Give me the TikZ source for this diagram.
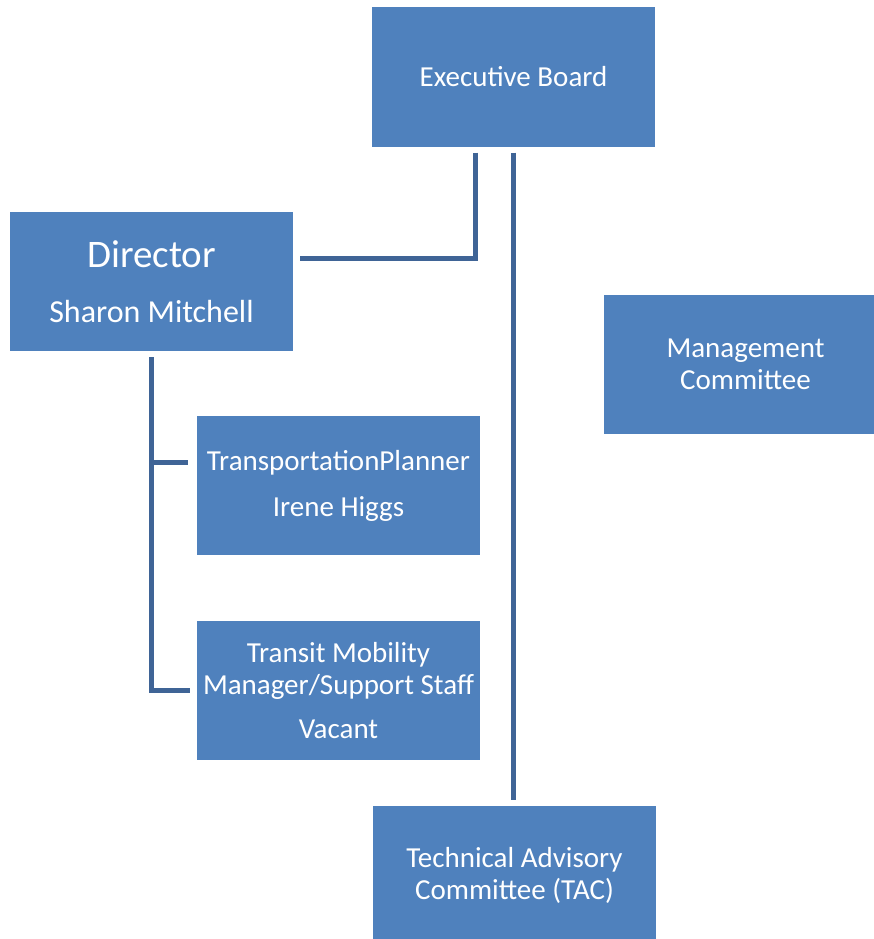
\documentclass[tikz,border=0pt]{standalone}
\usepackage{fontspec}
\setmainfont{Carlito}
\usetikzlibrary{positioning}
\definecolor{boxblue}{RGB}{79,129,189}
\definecolor{linkblue}{RGB}{63,100,150}
\tikzset{
unit box/.style={rectangle, fill=boxblue, text=white, minimum width=283pt, minimum height=139pt, inner sep=0pt, align=center, font=\fontsize{29}{32}\selectfont}, % sets the properties for each box
link/.style={draw=linkblue, line width=5pt}, % sets the lines between the boxes
}

\begin{document}
\begin{tikzpicture}[x=1pt,y=-1pt]
		\useasboundingbox (0,0) rectangle (874,939);
		\node[unit box] (board) at (513.5,77) {Executive Board};
		\node[unit box] (director) at (151.5,281.5) {{\fontsize{39}{44}\selectfont Director}\\[23pt]{\fontsize{32}{36}\selectfont Sharon Mitchell}};
		\node[unit box] (committee) at (745.5,364) {Management\\Committee};
		\node[unit box] (planner) at (338.5,485.5) {TransportationPlanner\\[14pt]Irene Higgs};
		\node[unit box] (transit) at (338.5,690.5) {Transit Mobility\\Manager/Support Staff\\[12pt]Vacant};
		\node[unit box] (tac) at (514.5,875.5) {Technical Advisory\\Committee (TAC)};
		% lines
		\coordinate (tick) at ([xshift=-9pt,yshift=23.5pt]planner.west);
		\draw[link] ([xshift=-38.5pt,yshift=-6pt]board.south) |- ([xshift=7pt,yshift=23.5pt]director.east);
		\draw[link] ([yshift=-6pt]board.south) -- ([xshift=-1pt,yshift=6pt]tac.north);
		\draw[link] ([yshift=-6pt]director.south) |- ([xshift=-7pt]transit.west);
		\draw[link] (director.south |- tick) -- (tick);
	\end{tikzpicture}
\end{document}
